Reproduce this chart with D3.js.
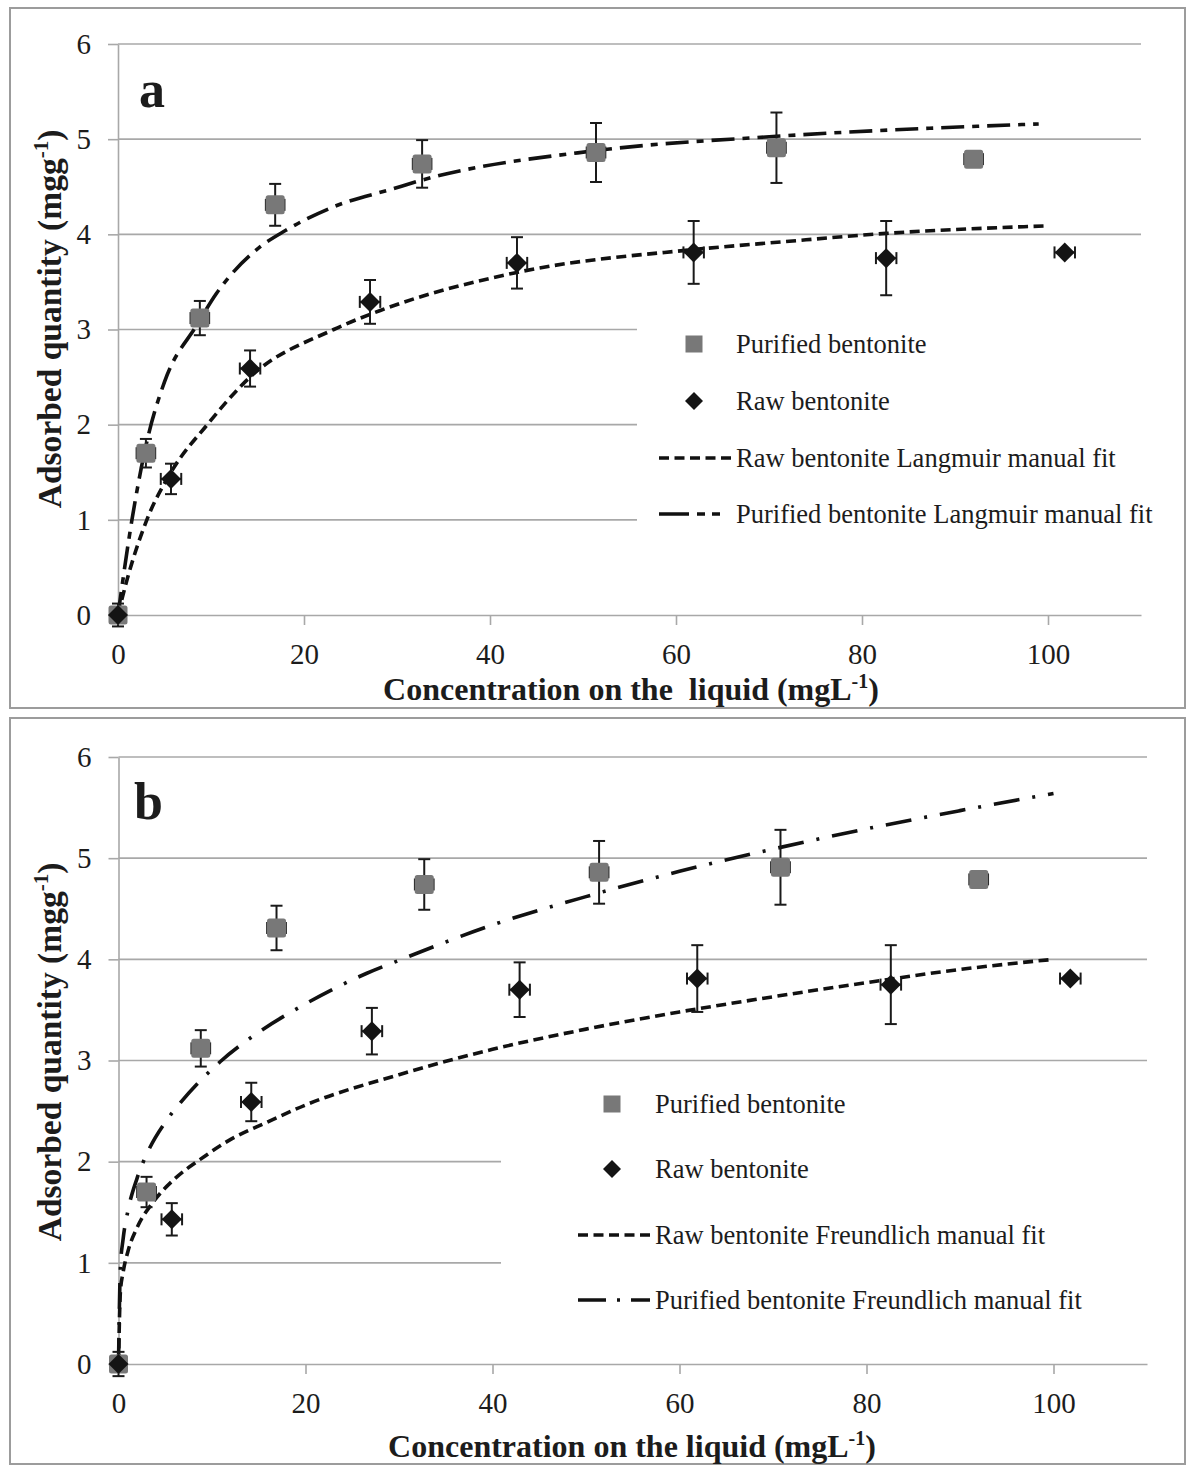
<!DOCTYPE html>
<html><head><meta charset="utf-8">
<script src="https://cdn.jsdelivr.net/npm/d3@7"></script>
<style>
body{margin:0;background:#fff}
svg{display:block}
text{font-family:"Liberation Serif","Times New Roman",serif;fill:#1c1c1c}
</style>
</head><body>
<svg id="c" width="1187" height="1465"></svg>
<script>
// ---------- data ----------
const xTicks = [0, 20, 40, 60, 80, 100];
const yTicks = [0, 1, 2, 3, 4, 5, 6];

const purifiedC   = [0, 3.0, 8.8, 16.9, 32.7, 51.4, 70.8, 92.0];
const purifiedQ   = [0, 1.70, 3.12, 4.31, 4.74, 4.86, 4.91, 4.79];
const purifiedErr = [0, 0.15, 0.18, 0.22, 0.25, 0.31, 0.37, 0];
const purifiedCErr = [0, 1.0, 1.0, 1.0, 1.0, 1.0, 1.0, 1.0];

const rawC   = [0, 5.7, 14.2, 27.1, 42.9, 61.9, 82.6, 101.8];
const rawQ   = [0, 1.43, 2.59, 3.29, 3.70, 3.81, 3.75, 3.81];
const rawErr = [0.12, 0.16, 0.19, 0.23, 0.27, 0.33, 0.39, 0];
const rawCErr = [0, 1.1, 1.1, 1.1, 1.1, 1.1, 1.1, 1.1];

// fitted curves
const rawLangmuirC = [0, 1, 3.1, 5.7, 9.6, 14.2, 23.2, 28.2, 42.9, 61.9, 71.3, 82.6, 100.1];
const rawLangmuirQ = [0, 0.38, 1.0, 1.5, 2.0, 2.5, 3.0, 3.2, 3.6, 3.84, 3.92, 4.01, 4.09];
const purLangmuirC = [0, 1.5, 3.1, 5, 8.5, 10.6, 15.3, 18, 23.2, 29.6, 32.7, 51.4, 70.8, 99];
const purLangmuirQ = [0, 1.0, 1.82, 2.45, 3.05, 3.38, 3.87, 4.04, 4.29, 4.48, 4.57, 4.88, 5.03, 5.16];

const rawFreundlichC = [0, 0.2, 0.5, 1, 2, 3.7, 6, 8.7, 12, 15.9, 20, 30, 40, 50, 60, 70, 80, 90, 100];
const rawFreundlichQ = [0, 0.71, 0.91, 1.11, 1.35, 1.6, 1.83, 2.02, 2.22, 2.39, 2.56, 2.86, 3.11, 3.31, 3.48, 3.63, 3.77, 3.9, 4.0];
const purFreundlichC = [0, 0.2, 0.5, 1, 2, 3.2, 5, 6.6, 10.9, 15, 20, 26.5, 30, 40, 50, 60, 70, 80, 90, 100];
const purFreundlichQ = [0, 0.95, 1.24, 1.51, 1.84, 2.11, 2.39, 2.58, 2.99, 3.28, 3.56, 3.86, 3.99, 4.34, 4.62, 4.87, 5.09, 5.29, 5.47, 5.64];

const legendA = ["Purified bentonite", "Raw bentonite", "Raw bentonite Langmuir manual fit", "Purified bentonite Langmuir manual fit"];
const legendB = ["Purified bentonite", "Raw bentonite", "Raw bentonite Freundlich manual fit", "Purified bentonite Freundlich manual fit"];

// ---------- drawing ----------
const svg = d3.select('#c');
svg.append('rect').attr('width', 1187).attr('height', 1465).attr('fill', '#fff');

const GRID = '#a8a8a8';
const zip = (a, b) => a.map((v, i) => [v, b[i]]);

function panel(cfg) {
  const g = svg.append('g');
  const x = d3.scaleLinear().domain([0, 110]).range(cfg.xRange);
  const y = d3.scaleLinear().domain([0, 6]).range(cfg.yRange);

  // frame
  g.append('rect').attr('x', cfg.frame[0]).attr('y', cfg.frame[1])
    .attr('width', cfg.frame[2]).attr('height', cfg.frame[3])
    .attr('fill', 'none').attr('stroke', '#9c9c9c').attr('stroke-width', 2);

  // gridlines
  g.append('g').selectAll('line').data(yTicks.filter(t => t > 0)).join('line')
    .attr('x1', x(0)).attr('x2', x(110)).attr('y1', d => y(d)).attr('y2', d => y(d))
    .attr('stroke', GRID).attr('stroke-width', 1.6);

  // axes
  const ax = g.append('g').attr('transform', `translate(0,${y(0)})`)
    .call(d3.axisBottom(x).tickValues(xTicks).tickFormat(d3.format('d')).tickSize(10).tickSizeOuter(0).tickPadding(18));
  const ay = g.append('g').attr('transform', `translate(${x(0)},0)`)
    .call(d3.axisLeft(y).tickValues(yTicks).tickFormat(d3.format('d')).tickSize(10).tickSizeOuter(0).tickPadding(17));
  [ax, ay].forEach(a => {
    a.attr('font-family', null).attr('font-size', null);
    a.selectAll('path,line').attr('stroke', GRID).attr('stroke-width', 1.6);
    a.selectAll('text').attr('font-size', 29).attr('fill', '#1c1c1c');
  });

  // legend background
  const lb = cfg.legendBox;
  g.append('rect').attr('x', lb[0]).attr('y', lb[1]).attr('width', lb[2]).attr('height', lb[3]).attr('fill', '#fff');

  // fit curves
  const line = d3.line().x(d => x(d[0])).y(d => y(d[1])).curve(d3.curveMonotoneX);
  g.append('path').datum(zip(cfg.rawFitC, cfg.rawFitQ)).attr('d', line)
    .attr('fill', 'none').attr('stroke', '#111').attr('stroke-width', 3.6).attr('stroke-dasharray', '10,5.5');
  g.append('path').datum(zip(cfg.purFitC, cfg.purFitQ)).attr('d', line)
    .attr('fill', 'none').attr('stroke', '#111').attr('stroke-width', 3.6).attr('stroke-dasharray', cfg.purDash);

  // error bars
  function errorBars(C, Q, E, CE) {
    const eg = g.append('g').attr('stroke', '#1a1a1a').attr('stroke-width', 2).attr('fill', 'none');
    C.forEach((c, i) => {
      const cx = x(c), cy = y(Q[i]);
      if (E[i] > 0) {
        const y1 = y(Q[i] + E[i]), y2 = y(Q[i] - E[i]);
        eg.append('line').attr('x1', cx).attr('x2', cx).attr('y1', y1).attr('y2', y2);
        eg.append('line').attr('x1', cx - 6).attr('x2', cx + 6).attr('y1', y1).attr('y2', y1);
        eg.append('line').attr('x1', cx - 6).attr('x2', cx + 6).attr('y1', y2).attr('y2', y2);
      }
      if (CE[i] > 0) {
        const x1 = x(c - CE[i]), x2 = x(c + CE[i]);
        eg.append('line').attr('x1', x1).attr('x2', x2).attr('y1', cy).attr('y2', cy);
        eg.append('line').attr('x1', x1).attr('x2', x1).attr('y1', cy - 6).attr('y2', cy + 6);
        eg.append('line').attr('x1', x2).attr('x2', x2).attr('y1', cy - 6).attr('y2', cy + 6);
      }
    });
  }
  errorBars(purifiedC, purifiedQ, purifiedErr, purifiedCErr);
  errorBars(rawC, rawQ, rawErr, rawCErr);

  // markers
  const sq = 19;
  g.append('g').selectAll('rect').data(zip(purifiedC, purifiedQ)).join('rect')
    .attr('x', d => x(d[0]) - sq / 2).attr('y', d => y(d[1]) - sq / 2)
    .attr('width', sq).attr('height', sq).attr('rx', 2.5).attr('fill', '#787878');
  const dm = 10;
  g.append('g').selectAll('path').data(zip(rawC, rawQ)).join('path')
    .attr('d', d => { const cx = x(d[0]), cy = y(d[1]); return `M${cx},${cy - dm}L${cx + dm},${cy}L${cx},${cy + dm}L${cx - dm},${cy}Z`; })
    .attr('fill', '#141414');

  // legend
  const L = cfg.legend;
  const lg = g.append('g');
  lg.append('rect').attr('x', L.sx - 8.5).attr('y', L.ys[0] - 8.5).attr('width', 17).attr('height', 17).attr('fill', '#787878');
  lg.append('path').attr('d', `M${L.sx},${L.ys[1] - 9}L${L.sx + 9},${L.ys[1]}L${L.sx},${L.ys[1] + 9}L${L.sx - 9},${L.ys[1]}Z`).attr('fill', '#141414');
  lg.append('line').attr('x1', L.x0).attr('x2', L.x1).attr('y1', L.ys[2]).attr('y2', L.ys[2])
    .attr('stroke', '#111').attr('stroke-width', 3.4).attr('stroke-dasharray', '10,5.5');
  lg.append('line').attr('x1', L.x0).attr('x2', L.x1).attr('y1', L.ys[3]).attr('y2', L.ys[3])
    .attr('stroke', '#111').attr('stroke-width', 3.4).attr('stroke-dasharray', cfg.purLegendDash);
  lg.selectAll('text').data(cfg.legendText).join('text')
    .attr('x', L.tx).attr('y', (d, i) => L.ys[i]).attr('dy', '0.33em')
    .attr('font-size', 26.5).text(d => d);

  // panel letter
  g.append('text').attr('x', cfg.letter[1]).attr('y', cfg.letter[2])
    .attr('font-size', 52).attr('font-weight', 'bold').text(cfg.letter[0]);

  // axis titles
  const xt = g.append('text').attr('x', cfg.xTitle[1]).attr('y', cfg.xTitle[2])
    .attr('text-anchor', 'middle').attr('font-size', 32).attr('font-weight', 'bold')
    .style('white-space', 'pre');
  xt.append('tspan').text(cfg.xTitle[0]);
  xt.append('tspan').attr('font-size', 20).attr('dy', -12).text('-1');
  xt.append('tspan').attr('dy', 12).text(')');

  const yt = g.append('text').attr('transform', `translate(${cfg.yTitle[0]},${cfg.yTitle[1]}) rotate(-90)`)
    .attr('text-anchor', 'middle').attr('font-size', 33.5).attr('font-weight', 'bold');
  yt.append('tspan').text('Adsorbed quantity (mgg');
  yt.append('tspan').attr('font-size', 21).attr('dy', -13).text('-1');
  yt.append('tspan').attr('dy', 13).text(')');
}

panel({
  frame: [10, 8, 1175, 700],
  xRange: [118, 1141], yRange: [615, 44],
  legendBox: [637, 300, 504, 262],
  rawFitC: rawLangmuirC, rawFitQ: rawLangmuirQ,
  purFitC: purLangmuirC, purFitQ: purLangmuirQ,
  purDash: '23,8,7,8', purLegendDash: '30,8,8,7,8,40',
  legend: { sx: 694, x0: 659, x1: 731, tx: 736, ys: [344, 401, 458, 514] },
  legendText: legendA,
  letter: ['a', 139, 107],
  xTitle: ['Concentration on the\u00a0 liquid (mgL', 631, 700],
  yTitle: [61, 319]
});

panel({
  frame: [10, 718, 1175, 746],
  xRange: [118.5, 1147], yRange: [1364, 757],
  legendBox: [501, 1075, 646, 265],
  rawFitC: rawFreundlichC, rawFitQ: rawFreundlichQ,
  purFitC: purFreundlichC, purFitQ: purFreundlichQ,
  purDash: '26,13,3,13', purLegendDash: '28,11,3,11,20,40',
  legend: { sx: 612, x0: 578, x1: 650, tx: 655, ys: [1104, 1169, 1235, 1300] },
  legendText: legendB,
  letter: ['b', 134, 819],
  xTitle: ['Concentration on the liquid (mgL', 632, 1457],
  yTitle: [61, 1052]
});
</script>
</body></html>
